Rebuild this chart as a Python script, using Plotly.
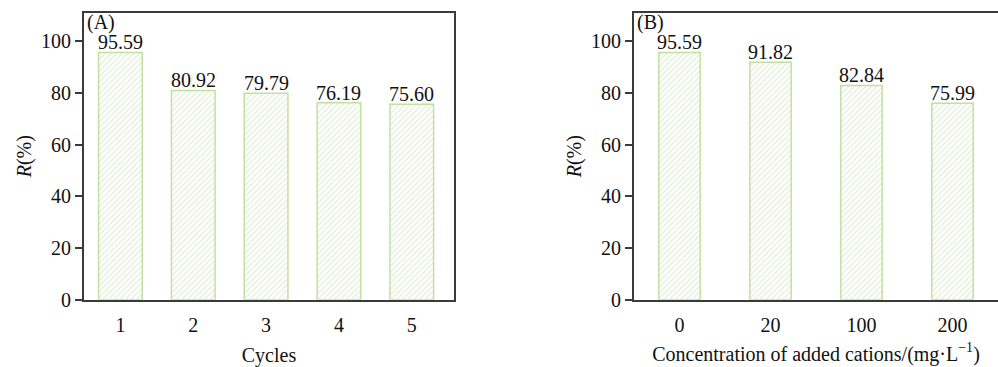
import plotly.graph_objects as go

cycles = ["1", "2", "3", "4", "5"]
removal_cycles = [95.59, 80.92, 79.79, 76.19, 75.60]

cations = ["0", "20", "100", "200"]
removal_cations = [95.59, 91.82, 82.84, 75.99]

FONT = "Liberation Serif"
AX = "#3a3a3a"
EDGE = "#c3e0a3"
HATCH = "#c6dcae"
FS = 20

fig = go.Figure()

fig.add_trace(go.Bar(
    x=cycles, y=removal_cycles, xaxis="x", yaxis="y", width=0.6,
    marker=dict(color="white", line=dict(color=EDGE, width=1.5),
                pattern=dict(shape="/", fgcolor=HATCH, bgcolor="white", size=4, solidity=0.3)),
    showlegend=False))

fig.add_trace(go.Bar(
    x=cations, y=removal_cations, xaxis="x2", yaxis="y2", width=0.455,
    marker=dict(color="white", line=dict(color=EDGE, width=1.5),
                pattern=dict(shape="/", fgcolor=HATCH, bgcolor="white", size=4, solidity=0.3)),
    showlegend=False))

yb, yt = 58 / 367, 354 / 367
common_x = dict(showline=True, linecolor=AX, linewidth=2, ticks="", showgrid=False,
                zeroline=False, tickfont=dict(family=FONT, size=FS, color="#111"),
                ticklabelstandoff=6,
                title_font=dict(family=FONT, size=FS, color="#111"), type="category")
common_y = dict(showline=True, linecolor=AX, linewidth=2, ticks="outside", ticklen=7,
                tickcolor=AX, tickwidth=1.5, showgrid=False, zeroline=False,
                range=[0, 111], tickvals=[0, 20, 40, 60, 80, 100],
                tickfont=dict(family=FONT, size=FS, color="#111"),
                title=dict(text="<i>R</i>(%)", font=dict(family=FONT, size=FS, color="#111"), standoff=4))

annotations = [
    dict(text="(A)", xref="paper", yref="paper", x=86 / 998, y=(367 - 10) / 367,
         xanchor="left", yanchor="top", showarrow=False, borderpad=0,
         font=dict(family=FONT, size=FS, color="#111")),
    dict(text="(B)", xref="paper", yref="paper", x=636 / 998, y=(367 - 10) / 367,
         xanchor="left", yanchor="top", showarrow=False, borderpad=0,
         font=dict(family=FONT, size=FS, color="#111")),
]
for xs, ys, xr, yr in [(cycles, removal_cycles, "x", "y"), (cations, removal_cations, "x2", "y2")]:
    for i, yv in enumerate(ys):
        annotations.append(dict(text=f"{yv:.2f}", x=i, y=yv, xref=xr, yref=yr,
                                xanchor="center", yanchor="bottom", yshift=-2,
                                showarrow=False, borderpad=0,
                                font=dict(family=FONT, size=FS, color="#111")))

fig.update_layout(
    width=998, height=367, margin=dict(l=0, r=0, t=0, b=0),
    plot_bgcolor="white", paper_bgcolor="white", bargap=0.4,
    xaxis=dict(**common_x, domain=[84 / 998, 454 / 998], anchor="y", mirror=True,
               range=[-0.5, 4.58], title=dict(text="Cycles", standoff=13)),
    yaxis=dict(**common_y, domain=[yb, yt], anchor="x", mirror=True),
    xaxis2=dict(**common_x, domain=[634 / 998, 1.0], anchor="y2", mirror=True,
                range=[-0.5, 3.5],
                title=dict(text="Concentration of added cations/(mg·L<sup>−1</sup>)", standoff=12)),
    yaxis2=dict(**common_y, domain=[yb, yt], anchor="x2", mirror=False),
    annotations=annotations,
)

fig.write_html("out.html")
